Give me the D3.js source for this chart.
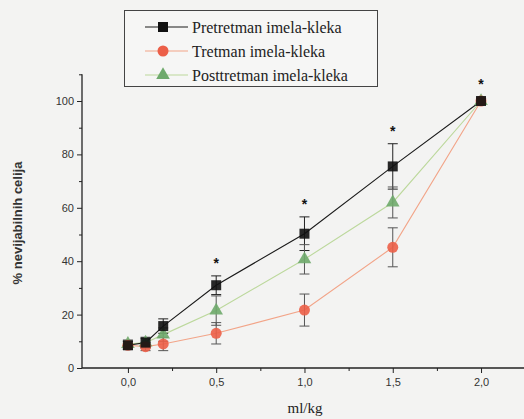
<!DOCTYPE html>
<html><head><meta charset="utf-8">
<script src="https://cdn.jsdelivr.net/npm/d3@7"></script>
<style>
html,body{margin:0;padding:0;background:#f3f3f2;}
svg{display:block;}
</style></head>
<body>
<svg id="c" width="524" height="419"></svg>
<script>
const doses = [0, 0.1, 0.2, 0.5, 1.0, 1.5, 2.0];
const seriesNames = ["Pretretman imela-kleka", "Tretman imela-kleka", "Posttretman imela-kleka"];
const preValues = [8.5, 9.5, 15.7, 31, 50.3, 75.5, 100];
const preErrors = [1.5, 2, 2.7, 3.5, 6.3, 8.5, 1];
const tretValues = [8.5, 8, 9, 13, 21.7, 45.2, 100];
const tretErrors = [1.5, 1.5, 2.5, 4, 6, 7.3, 1];
const postValues = [9, 9.5, 12.5, 21.5, 40.7, 62, 100];
const postErrors = [1.5, 1.5, 2.5, 5.5, 5.5, 5.8, 1];
const starDoses = [0.5, 1.0, 1.5, 2.0];
const starValues = [40, 62, 89.5, 107];
const xTicks = [0, 0.5, 1.0, 1.5, 2.0];
const xTickLabels = ["0,0", "0,5", "1,0", "1,5", "2,0"];
const yTicks = [0, 20, 40, 60, 80, 100];
const xLabel = "ml/kg";
const yLabel = "% nevijabilnih celija";

const svg = d3.select("#c");
const x = d3.scaleLinear().domain([-0.26, 2.3]).range([82, 534]);
const y = d3.scaleLinear().domain([0, 110]).range([368, 74.3]);

const series = [
  {name: seriesNames[0], v: preValues, e: preErrors, line: "#1a1a1a", fill: "#111", sym: d3.symbolSquare, size: 100, err: "#222"},
  {name: seriesNames[1], v: tretValues, e: tretErrors, line: "#f2a488", fill: "#ec5f48", sym: d3.symbolCircle, size: 95, err: "#555"},
  {name: seriesNames[2], v: postValues, e: postErrors, line: "#bcd89c", fill: "#6faa6c", sym: d3.symbolTriangle, size: 80, err: "#555"}
];

// axes
const axisColor = "#222";
const gx = svg.append("g").attr("transform", `translate(0,${y(0)})`);
gx.append("line").attr("x1", x(-0.26)).attr("x2", 530).attr("stroke", axisColor).attr("stroke-width", 1.3);
gx.call(g => {
  const ax = d3.axisBottom(x).tickValues(xTicks).tickSize(5).tickFormat((d,i) => xTickLabels[i]);
  const sub = g.append("g").call(ax);
  sub.select(".domain").remove();
  sub.selectAll("text").attr("font-family", "Liberation Sans, Arial, sans-serif").attr("font-size", 11).attr("fill", "#333").attr("dy", "0.95em");
  sub.selectAll("line").attr("stroke", axisColor);
  const minor = g.append("g").call(d3.axisBottom(x).tickValues([0.25, 0.75, 1.25, 1.75, 2.25]).tickSize(3).tickFormat(""));
  minor.select(".domain").remove();
  minor.selectAll("line").attr("stroke", axisColor);
});

const gy = svg.append("g").attr("transform", `translate(${x(-0.26)},0)`);
gy.append("line").attr("y1", y(0)).attr("y2", y(110)).attr("stroke", axisColor).attr("stroke-width", 1.3);
{
  const sub = gy.append("g").call(d3.axisLeft(y).tickValues(yTicks).tickSize(5).tickFormat(d3.format("d")));
  sub.select(".domain").remove();
  sub.selectAll("text").attr("font-family", "Liberation Sans, Arial, sans-serif").attr("font-size", 11).attr("fill", "#333");
  sub.selectAll("line").attr("stroke", axisColor);
  const minor = gy.append("g").call(d3.axisLeft(y).tickValues([10, 30, 50, 70, 90, 110]).tickSize(3).tickFormat(""));
  minor.select(".domain").remove();
  minor.selectAll("line").attr("stroke", axisColor);
}

svg.append("text").attr("x", 305).attr("y", 413).attr("text-anchor", "middle")
  .attr("font-family", "Liberation Serif, Times New Roman, serif").attr("font-size", 15).attr("fill", "#222").text(xLabel);
svg.append("text").attr("transform", `translate(22,223) rotate(-90)`).attr("text-anchor", "middle")
  .attr("font-family", "Liberation Sans, Arial, sans-serif").attr("font-size", 13).attr("font-weight", "bold").attr("fill", "#333").text(yLabel);

// lines (draw in reverse so black on top)
const lineGen = d3.line().x((d,i) => x(doses[i])).y(d => y(d));
[...series].reverse().forEach(s => {
  svg.append("path").attr("d", lineGen(s.v)).attr("fill", "none").attr("stroke", s.line).attr("stroke-width", 1.1);
});
// error bars
series.forEach(s => {
  const g = svg.append("g").attr("stroke", s.err).attr("stroke-width", 1);
  s.v.forEach((v, i) => {
    const cx = x(doses[i]);
    const lo = y(v - s.e[i]), hi = y(v + s.e[i]);
    g.append("line").attr("x1", cx).attr("x2", cx).attr("y1", lo).attr("y2", hi);
    g.append("line").attr("x1", cx - 5).attr("x2", cx + 5).attr("y1", lo).attr("y2", lo);
    g.append("line").attr("x1", cx - 5).attr("x2", cx + 5).attr("y1", hi).attr("y2", hi);
  });
});
// markers
[...series].reverse().forEach(s => {
  const sym = d3.symbol().type(s.sym).size(s.size);
  svg.append("g").selectAll("path").data(s.v).join("path")
    .attr("d", sym)
    .attr("transform", (d,i) => `translate(${x(doses[i])},${y(d)})`)
    .attr("fill", s.fill).attr("opacity", 0.9);
});
// asterisks
svg.append("g").selectAll("text").data(starValues).join("text")
  .attr("x", (d,i) => x(starDoses[i])).attr("y", d => y(d) + 7)
  .attr("text-anchor", "middle").attr("font-family", "Liberation Sans, Arial, sans-serif")
  .attr("font-size", 14).attr("font-weight", "bold").attr("fill", "#111").text("*");

// legend
const lg = svg.append("g");
lg.append("rect").attr("x", 124.5).attr("y", 10.5).attr("width", 253).attr("height", 76)
  .attr("fill", "#f6f6f5").attr("stroke", "#444").attr("stroke-width", 1);
series.forEach((s, i) => {
  const ly = 27 + i * 24;
  lg.append("line").attr("x1", 145).attr("x2", 188).attr("y1", ly).attr("y2", ly).attr("stroke", s.line).attr("stroke-width", 1.1);
  lg.append("path").attr("d", d3.symbol().type(s.sym).size(s.size)()).attr("transform", `translate(163,${ly})`).attr("fill", s.fill);
  lg.append("text").attr("x", 192).attr("y", ly).attr("dy", "0.35em")
    .attr("font-family", "Liberation Serif, Times New Roman, serif").attr("font-size", 16).attr("fill", "#222").text(s.name);
});
</script>
</body></html>
